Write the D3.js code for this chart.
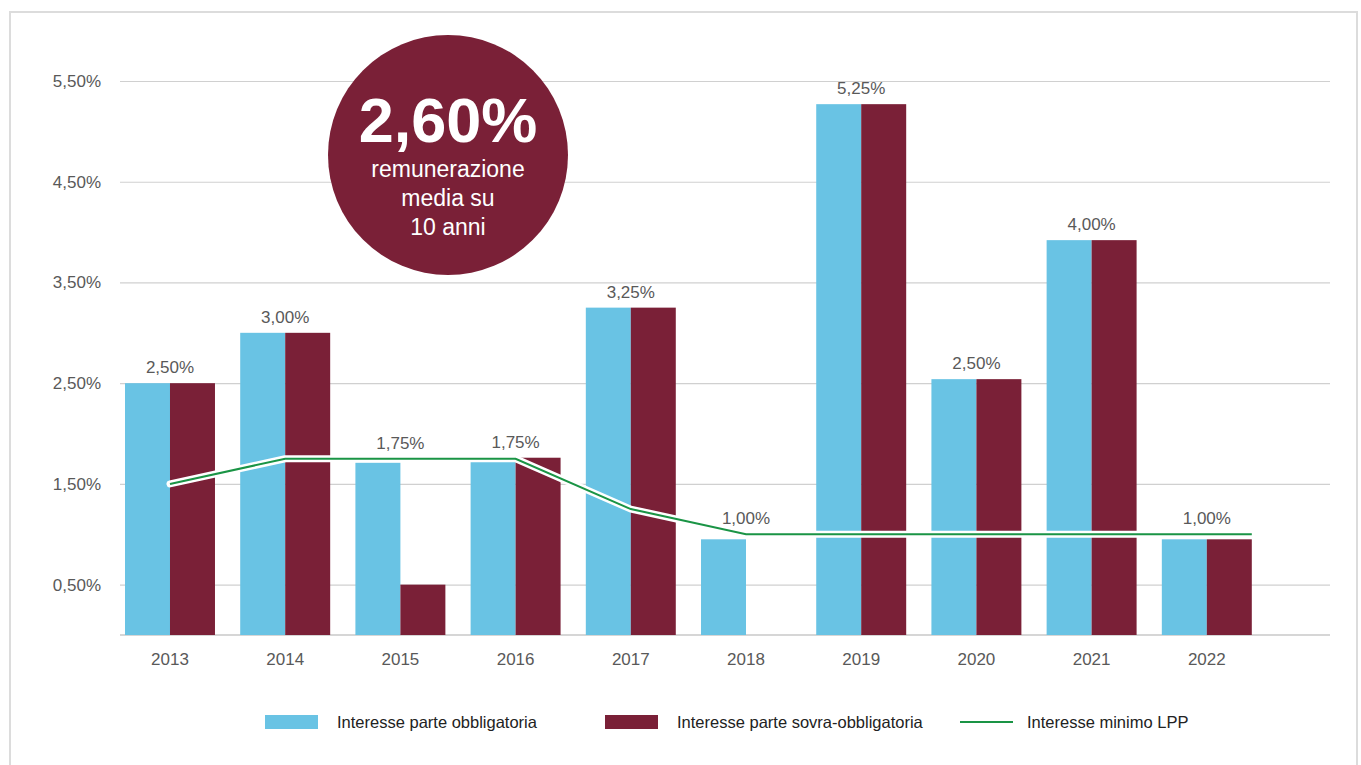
<!DOCTYPE html>
<html>
<head>
<meta charset="utf-8">
<script src="https://cdn.jsdelivr.net/npm/d3@7"></script>
<style>
  body { margin: 0; background: #fff; }
  text { font-family: "Liberation Sans", Arial, sans-serif; }
</style>
</head>
<body>
<script>
// dati
var anni = ["2013", "2014", "2015", "2016", "2017", "2018", "2019", "2020", "2021", "2022"];
var obbligatoria = [2.50, 3.00, 1.71, 1.72, 3.25, 0.95, 5.27, 2.54, 3.92, 0.95];
var sovraObbligatoria = [2.50, 3.00, 0.50, 1.76, 3.25, null, 5.27, 2.54, 3.92, 0.95];
var minimoLPP = [1.50, 1.75, 1.75, 1.75, 1.25, 1.00, 1.00, 1.00, 1.00, 1.00];
var etichette = [2.50, 3.00, 1.75, 1.75, 3.25, 1.00, 5.25, 2.50, 4.00, 1.00];
var yTicks = [0.5, 1.5, 2.5, 3.5, 4.5, 5.5];
var legenda = ["Interesse parte obbligatoria", "Interesse parte sovra-obbligatoria", "Interesse minimo LPP"];

var width = 1361;
var height = 765;
var blu = "#69c3e4";
var bordeaux = "#7a2037";
var verde = "#1a9445";
var grigio = "#595959";

var svg = d3.select("body").append("svg")
  .attr("width", width)
  .attr("height", height);

// cornice
svg.append("rect")
  .attr("x", 10).attr("y", 12)
  .attr("width", 1347).attr("height", 800)
  .attr("fill", "none")
  .attr("stroke", "#dcdcdc")
  .attr("stroke-width", 2);

var left = 120, right = 1330;

var yScale = d3.scaleLinear()
  .domain([0, 5.5])
  .range([635, 81]);

var xScale = d3.scaleBand()
  .domain(anni)
  .range([112.4, 1264.4])
  .paddingInner(0.219)
  .paddingOuter(0.1094);

var fmt = function(v){
  return v.toFixed(2).replace(".", ",") + "%";
};

// griglia + etichette asse y
var yAxis = svg.append("g")
  .attr("transform", "translate(" + left + ",0)")
  .call(d3.axisLeft(yScale)
    .tickValues(yTicks)
    .tickSize(-(right - left))
    .tickPadding(19)
    .tickFormat(fmt));
yAxis.select(".domain").remove();
yAxis.selectAll(".tick line").attr("stroke", "#d0d0d0").attr("stroke-width", 1.2);
yAxis.selectAll(".tick text")
  .attr("fill", grigio)
  .style("font-size", "17px")
  .style("font-family", "'Liberation Sans', Arial, sans-serif");

// linea di base
svg.append("line")
  .attr("x1", left).attr("x2", right)
  .attr("y1", yScale(0)).attr("y2", yScale(0))
  .attr("stroke", "#c8c8c8")
  .attr("stroke-width", 1.5);

// asse x
var xAxis = svg.append("g")
  .attr("transform", "translate(0," + yScale(0) + ")")
  .call(d3.axisBottom(xScale).tickSize(0).tickPadding(18));
xAxis.select(".domain").remove();
xAxis.selectAll(".tick text")
  .attr("fill", grigio)
  .style("font-size", "17px")
  .style("font-family", "'Liberation Sans', Arial, sans-serif");

var half = xScale.bandwidth() / 2;

// barre: una riga per anno e serie
var righeBarre = [];
anni.forEach(function(a, i){
  righeBarre.push({anno: a, v: obbligatoria[i], serie: 0});
  if (sovraObbligatoria[i] !== null) {
    righeBarre.push({anno: a, v: sovraObbligatoria[i], serie: 1});
  }
});

svg.selectAll("rect.barra")
  .data(righeBarre)
  .enter()
  .append("rect")
  .attr("class", "barra")
  .attr("x", function(d){ return xScale(d.anno) + d.serie * half; })
  .attr("y", function(d){ return yScale(d.v); })
  .attr("width", half)
  .attr("height", function(d){ return yScale(0) - yScale(d.v); })
  .attr("fill", function(d){ return d.serie === 0 ? blu : bordeaux; });

// linea LPP
var punti = minimoLPP.map(function(d, i){
  return [xScale(anni[i]) + half, yScale(d)];
});
var ultimo = anni.length - 1;
punti.push([xScale(anni[ultimo]) + xScale.bandwidth(), yScale(minimoLPP[ultimo])]);

var line = d3.line();

svg.append("path")
  .attr("d", line(punti))
  .attr("fill", "none")
  .attr("stroke", "#fff")
  .attr("stroke-width", 7)
  .attr("stroke-linecap", "round")
  .attr("stroke-linejoin", "round");

svg.append("path")
  .attr("d", line(punti))
  .attr("fill", "none")
  .attr("stroke", verde)
  .attr("stroke-width", 2);

// etichette valori
svg.selectAll("text.val")
  .data(etichette)
  .enter()
  .append("text")
  .attr("class", "val")
  .attr("x", function(d, i){ return xScale(anni[i]) + half; })
  .attr("y", function(d, i){
    var vals = [obbligatoria[i], minimoLPP[i]];
    if (sovraObbligatoria[i] !== null) vals.push(sovraObbligatoria[i]);
    return yScale(d3.max(vals)) - 10;
  })
  .attr("text-anchor", "middle")
  .attr("fill", grigio)
  .style("font-size", "17px")
  .text(fmt);

// cerchio media
var cx = 448, cy = 155;
svg.append("circle")
  .attr("cx", cx).attr("cy", cy).attr("r", 120)
  .attr("fill", bordeaux);

svg.append("text")
  .attr("x", cx).attr("y", 142)
  .attr("text-anchor", "middle")
  .attr("fill", "#fff")
  .style("font-size", "63px")
  .style("font-weight", "bold")
  .text("2,60%");

var righe = ["remunerazione", "media su", "10 anni"];
svg.selectAll("text.media")
  .data(righe)
  .enter()
  .append("text")
  .attr("class", "media")
  .attr("x", cx)
  .attr("y", function(d, i){ return 177 + i * 29; })
  .attr("text-anchor", "middle")
  .attr("fill", "#fff")
  .style("font-size", "23px")
  .text(function(d){ return d; });

// legenda
var legX = [265, 605, 960];
var leg = svg.selectAll("g.leg")
  .data(legenda)
  .enter()
  .append("g")
  .attr("class", "leg")
  .attr("transform", function(d, i){ return "translate(" + legX[i] + ",722)"; });

leg.each(function(d, i){
  var g = d3.select(this);
  if (i < 2) {
    g.append("rect")
      .attr("x", 0).attr("y", -7)
      .attr("width", 53).attr("height", 14)
      .attr("fill", i === 0 ? blu : bordeaux);
  } else {
    g.append("line")
      .attr("x1", 0).attr("x2", 53)
      .attr("y1", 0).attr("y2", 0)
      .attr("stroke", verde)
      .attr("stroke-width", 2);
  }
  g.append("text")
    .attr("x", i === 2 ? 67 : 72)
    .attr("y", 6)
    .attr("fill", "#222")
    .style("font-size", "16.5px")
    .text(d);
});
</script>
</body>
</html>
